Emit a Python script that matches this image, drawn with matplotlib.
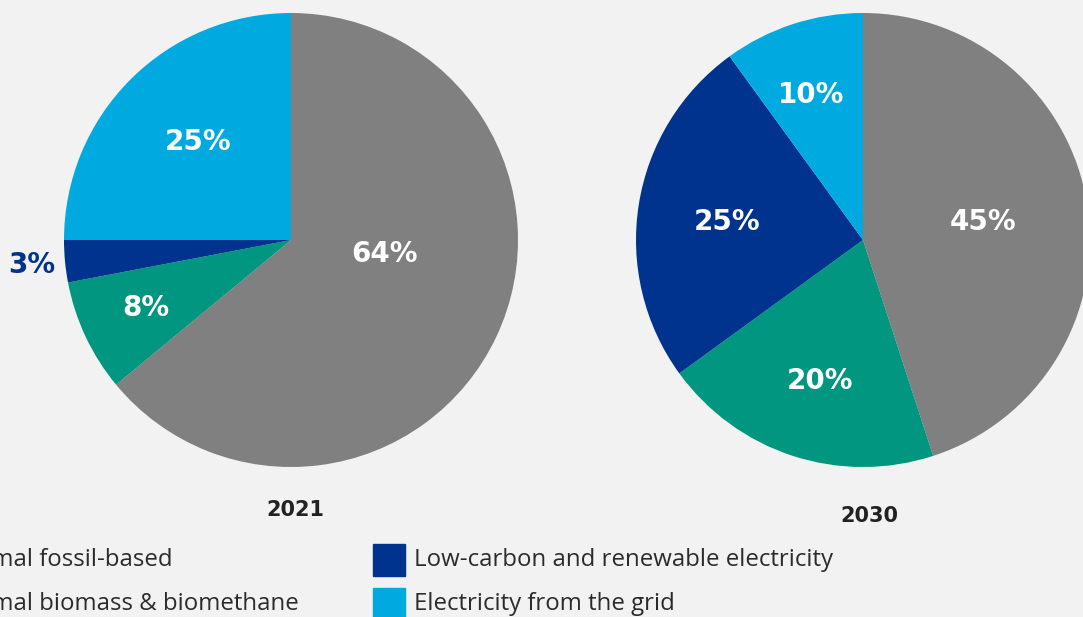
import matplotlib
matplotlib.use("Agg")
import matplotlib.pyplot as plt

plt.rcParams['font.family'] = ['Open Sans', 'DejaVu Sans']

categories = ["Thermal fossil-based", "Thermal biomass & biomethane",
              "Low-carbon and renewable electricity", "Electricity from the grid"]
colors = ["#808080", "#00967f", "#00338d", "#00a9e0"]

years = ["2021", "2030"]
shares_2021 = [64, 8, 3, 25]
shares_2030 = [45, 20, 25, 10]

# label spots in pie-radius units (hand placed like the original)
pos_2021 = [(0.41, -0.06), (-0.64, -0.30), (-1.14, -0.11), (-0.41, 0.43)]
pos_2030 = [(0.53, 0.08), (-0.19, -0.62), (-0.60, 0.08), (-0.23, 0.64)]

W, H = 1083, 617
fig = plt.figure(figsize=(W / 100, H / 100), dpi=100)
fig.patch.set_facecolor("#f2f2f2")


def pie_axes(cx, cy, r):
    ax = fig.add_axes([(cx - r) / W, (H - cy - r) / H, 2 * r / W, 2 * r / H])
    ax.axis("off")
    return ax


for (cx, cy), year, shares, pos, ydx in [((291, 240), years[0], shares_2021, pos_2021, 0.02),
                                         ((863, 240), years[1], shares_2030, pos_2030, 0.03)]:
    ax = pie_axes(cx, cy, 227)
    wedges, _ = ax.pie(shares, colors=colors, startangle=90, counterclock=False,
                       radius=1, wedgeprops=dict(linewidth=0))
    ax.set_xlim(-1, 1)
    ax.set_ylim(-1, 1)
    for w in wedges:
        w.set_clip_on(False)
    for v, (x, y), c in zip(shares, pos, colors):
        col = colors[2] if v == 3 else "white"
        ax.text(x, y, f"{v}%", color=col, fontsize=20, fontweight="bold",
                family="DejaVu Sans", ha="center", va="center", clip_on=False)
    ax.text(ydx, -1.19 if year == "2021" else -1.215, year, fontsize=15,
            fontweight="bold", family="DejaVu Sans", color="#222222",
            ha="center", va="center", clip_on=False)

# legend (two columns, partly outside the canvas on the left)
leg_x = [-101, 373]
leg_y = [560, 604]
for i, (lab, c) in enumerate(zip(categories, colors)):
    col, row = divmod(i, 2)
    x0, y0 = leg_x[col], leg_y[row]
    fig.patches.append(plt.Rectangle(((x0) / W, (H - y0 - 16) / H), 32 / W, 32 / H,
                                     transform=fig.transFigure, color=c, figure=fig))
    fig.text((x0 + 41) / W, (H - y0) / H, lab, fontsize=17.3, color="#2b2b2b",
             ha="left", va="center")

fig.savefig("out.png", dpi=100, facecolor=fig.get_facecolor())
